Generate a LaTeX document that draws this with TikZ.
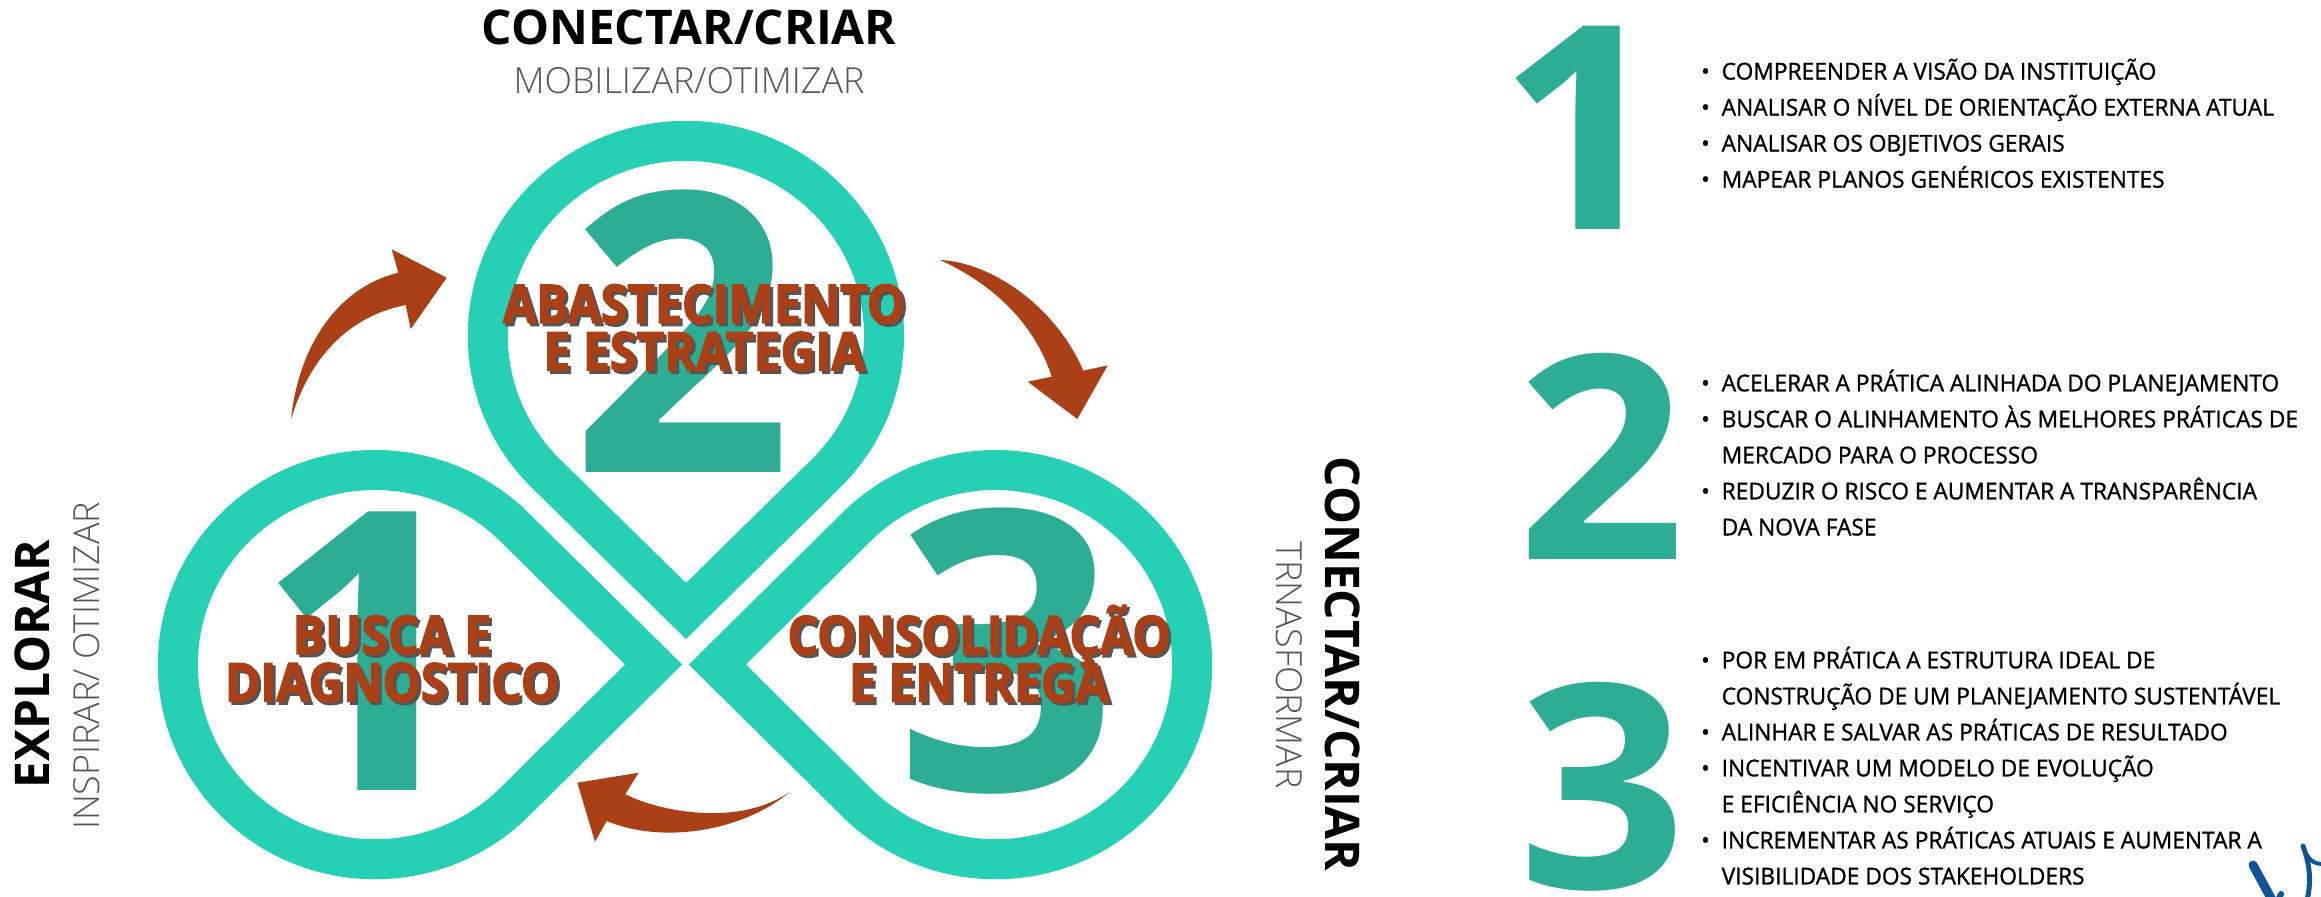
\documentclass[tikz,border=0pt]{standalone}
\usepackage{fontspec}
\setmainfont{Open Sans}
\newfontfamily\lightface{Open Sans Light}
\newfontfamily\heavyface[FakeStretch=0.9,BoldFeatures={FakeBold=2.4}]{Open Sans}
\newfontfamily\semiface[FakeStretch=0.98,FakeBold=1.1]{Open Sans}
\newfontfamily\sidenumface[FakeStretch=1.035]{Open Sans}
\definecolor{ringteal}{HTML}{26D0B4}
\definecolor{numteal}{HTML}{2CAD94}
\definecolor{arrowrust}{HTML}{AB3F16}
\definecolor{lightgrey}{HTML}{555555}
\definecolor{inkblue}{HTML}{0F5596}
\newcommand{\shadowed}[1]{\rlap{\hspace{0.8pt}\raisebox{-0.8pt}{\color{lightgrey}#1}}#1}
\newcommand{\bul}{\llap{\textbullet\hspace{3.4pt}}}
\newcommand{\tightlines}{\lineskiplimit=-20pt\relax}
\tikzset{
    ring/.style = {draw=ringteal, line width=0.40cm, miter limit=10},
    turn/.style = {fill=arrowrust},
    bignum/.style = {font=\fontsize{111}{111}\selectfont\bfseries, text=numteal, anchor=base, inner sep=0},
    sidenum/.style = {font=\fontsize{81}{81}\selectfont\sidenumface\bfseries, text=numteal, anchor=base, inner sep=0},
    stage/.style = {font=\fontsize{15.2}{13.5}\selectfont\heavyface\bfseries\tightlines, text=arrowrust, align=center, inner sep=0},
    head/.style = {font=\fontsize{13.6}{13.6}\selectfont\bfseries, anchor=base, inner sep=0},
    sub/.style = {font=\fontsize{10.2}{10.2}\selectfont\lightface, text=lightgrey, anchor=base, inner sep=0},
    steps/.style = {font=\fontsize{6.6}{10.24}\selectfont\semiface, align=left, anchor=north west, inner sep=0},
    ink/.style = {draw=inkblue, line cap=round}
}
\begin{document}
\begin{tikzpicture}[x=0.01cm,y=-0.01cm]
    \useasboundingbox (0,0) rectangle (2321,896);

    % rings
    \draw[ring] (653.6,664.5) -- (514.3,527) arc[start angle=45,end angle=315,x radius=1.97cm,y radius=1.945cm] -- cycle;
    \draw[ring] (686,611) -- (826,473.4) arc[start angle=-45,end angle=225,x radius=1.98cm,y radius=1.947cm] -- cycle;
    \draw[ring] (717.4,664.5) -- (856.4,527) arc[start angle=135,end angle=-135,x radius=1.966cm,y radius=1.945cm] -- cycle;

    % arrows
    \fill[turn] (291,419.3) .. controls (298,350) and (335,288) .. (398.3,272.7) -- (391.7,249.3) -- (446.7,277.7) -- (410.7,329) -- (405.7,305) .. controls (355,315) and (312,350) .. (291,419.3) -- cycle;
    \fill[turn] (940,260) .. controls (990,262) and (1055,305) .. (1083.3,370.7) -- (1107.7,365.3) -- (1077.3,419) -- (1027.7,381.7) -- (1051.7,376.7) .. controls (1035,325) and (995,285) .. (940,260) -- cycle;
    \fill[turn] (790,791.7) .. controls (745,830) and (665,845) .. (606.7,821) -- (595,841.7) -- (577.3,782.7) -- (638.7,772.7) -- (625.3,794) .. controls (650,808) and (735,830) .. (790,791.7) -- cycle;

    % big numbers
    \node (n1) at (367,790) [bignum] {1};
    \node (n2) at (682,472) [bignum] {2};
    \node (n3) at (1007,790) [bignum] {3};
    \node (s1) at (1583,229) [sidenum] {1};
    \node (s2) at (1602,559) [sidenum] {2};
    \node (s3) at (1603,888) [sidenum] {3};

    % stage names
    \node (busca) at (392,660) [stage] {\shadowed{BUSCA E}\\\shadowed{DIAGNOSTICO}};
    \node (abast) at (704,329) [stage] {\shadowed{ABASTECIMENTO}\\\shadowed{E ESTRATEGIA}};
    \node (conso) at (979,655) [stage] {\shadowed{CONSOLIDAÇÃO}\\\shadowed{E ENTREGA}};

    % side titles
    \node (top) at (689,44) [head] {CONECTAR/CRIAR};
    \node (topsub) at (689,93) [sub] {MOBILIZAR/OTIMIZAR};
    \node (left) at (50,664) [head, rotate=90] {EXPLORAR};
    \node (leftsub) at (99,666) [sub, rotate=90] {INSPIRAR/ OTIMIZAR};
    \node (right) at (1325,664) [head, rotate=-90] {CONECTAR/CRIAR};
    \node (rightsub) at (1276,665) [sub, rotate=-90] {TRNASFORMAR};

    % lists
    \node (l1) at (1721,58) [steps] {\bul COMPREENDER A VISÃO DA INSTITUIÇÃO\\\bul ANALISAR O NÍVEL DE ORIENTAÇÃO EXTERNA ATUAL\\\bul ANALISAR OS OBJETIVOS GERAIS\\\bul MAPEAR PLANOS GENÉRICOS EXISTENTES};
    \node (l2) at (1721,369) [steps] {\bul ACELERAR A PRÁTICA ALINHADA DO PLANEJAMENTO\\\bul BUSCAR O ALINHAMENTO ÀS MELHORES PRÁTICAS DE\\MERCADO PARA O PROCESSO\\\bul REDUZIR O RISCO E AUMENTAR A TRANSPARÊNCIA\\DA NOVA FASE};
    \node (l3) at (1721,646) [steps] {\bul POR EM PRÁTICA A ESTRUTURA IDEAL DE\\CONSTRUÇÃO DE UM PLANEJAMENTO SUSTENTÁVEL\\\bul ALINHAR E SALVAR AS PRÁTICAS DE RESULTADO\\\bul INCENTIVAR UM MODELO DE EVOLUÇÃO\\E EFICIÊNCIA NO SERVIÇO\\\bul INCREMENTAR AS PRÁTICAS ATUAIS E AUMENTAR A\\VISIBILIDADE DOS STAKEHOLDERS};

    % scribble
    \begin{scope}
    \clip (2200,816) rectangle (2321,896);
    \draw[ink, line width=0.09cm] (2253,865) -- (2272,900);
    \draw[ink, line width=0.06cm] (2279,898) -- (2281,894);
    \draw[ink, line width=0.05cm] (2303,846) .. controls (2309,862) and (2312,880) .. (2307,900);
    \draw[ink, line width=0.04cm] (2307,855) .. controls (2311,862) and (2316,864) .. (2323,864);
    \end{scope}
\end{tikzpicture}
\end{document}
